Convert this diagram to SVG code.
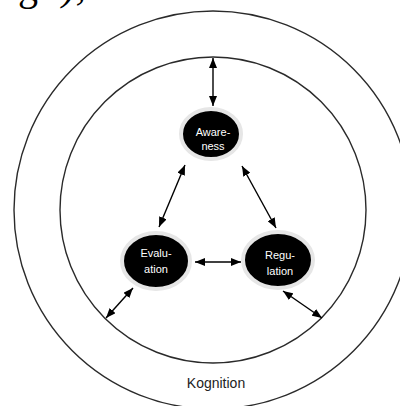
<svg xmlns="http://www.w3.org/2000/svg" width="400" height="406" viewBox="0 0 400 406">
<style>
.ring{fill:none;stroke:#2a2a2a;stroke-width:1.4}
.node{fill:#000;stroke:#e6e6e6;stroke-width:4}
.lbl{font-family:"Liberation Sans",Arial,sans-serif;font-size:11px;fill:#fff;text-anchor:middle}
.con{stroke:#000;stroke-width:1.4;fill:none;marker-start:url(#ah);marker-end:url(#ah)}
.title{font-family:"Liberation Sans",Arial,sans-serif;font-size:14px;fill:#222;text-anchor:middle}
.frag{font-family:"Liberation Serif","Times New Roman",serif;font-size:40px;fill:#000}
</style>
<defs>
<marker id="ah" markerUnits="userSpaceOnUse" markerWidth="10" markerHeight="8" refX="10" refY="4" orient="auto-start-reverse">
<path d="M0,0 L10,4 L0,8 z" fill="#000"/>
</marker>
</defs>
<rect width="400" height="406" fill="#fff"/>
<text class="frag" x="18" y="0">g</text>
<text class="frag" x="62" y="0" font-style="italic">);</text>
<g id="outer-ring"><circle class="ring" cx="213" cy="210" r="199"/></g>
<g id="inner-ring"><circle class="ring" cx="213" cy="210" r="153"/></g>
<g id="connectors">
<line class="con" x1="213" y1="58" x2="213" y2="106"/>
<line class="con" x1="185" y1="165" x2="159" y2="227"/>
<line class="con" x1="242" y1="166" x2="276" y2="228"/>
<line class="con" x1="195" y1="262" x2="241" y2="262"/>
<line class="con" x1="133" y1="288" x2="106" y2="318"/>
<line class="con" x1="283" y1="291" x2="322" y2="318"/>
</g>
<g id="awareness">
<ellipse class="node" cx="211" cy="134" rx="30" ry="25"/>
<text class="lbl" x="213" y="136">Aware-</text>
<text class="lbl" x="213" y="150">ness</text>
</g>
<g id="evaluation">
<ellipse class="node" cx="156" cy="261" rx="34" ry="28"/>
<text class="lbl" x="156" y="257">Evalu-</text>
<text class="lbl" x="156" y="273">ation</text>
</g>
<g id="regulation">
<ellipse class="node" cx="278" cy="260" rx="35" ry="28"/>
<text class="lbl" x="280" y="259">Regu-</text>
<text class="lbl" x="280" y="275">lation</text>
</g>
<g id="kognition">
<text class="title" x="216" y="388">Kognition</text>
</g>
</svg>
